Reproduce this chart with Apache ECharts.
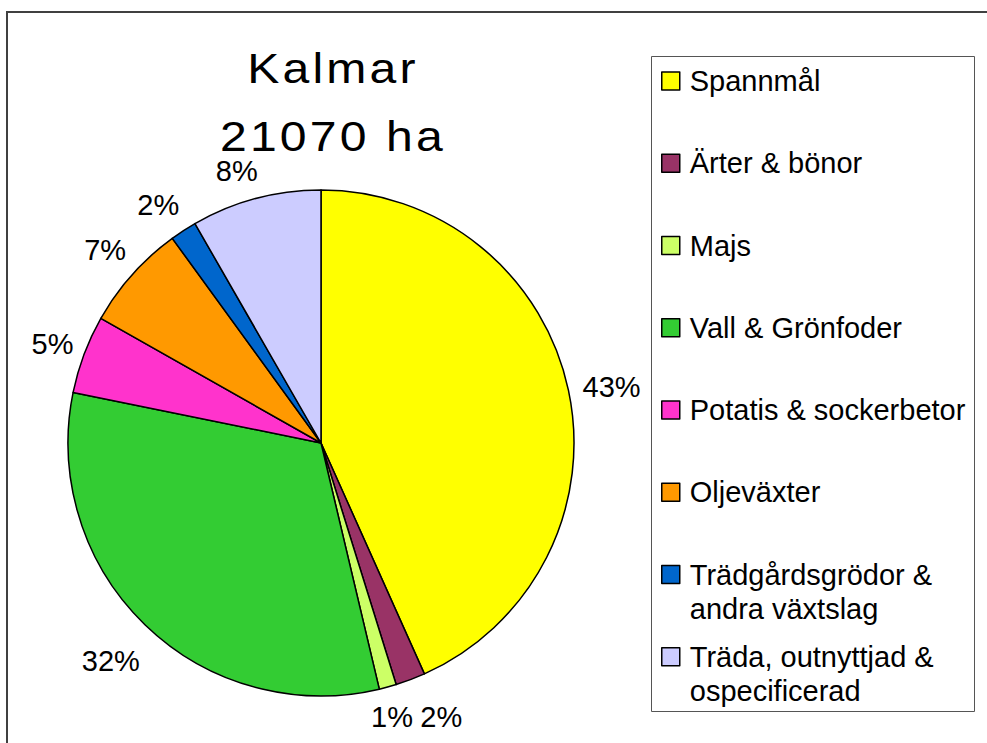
<!DOCTYPE html>
<html>
<head>
<meta charset="utf-8">
<script src="https://cdn.jsdelivr.net/npm/echarts@6/dist/echarts.min.js"></script>
<style>
  html, body { margin: 0; padding: 0; background: #ffffff; }
  #chart { width: 987px; height: 743px; }
</style>
</head>
<body>
<div id="chart"></div>
<script>
// ---- Data ----
var titleLines = ['Kalmar', '21070 ha'];
var categories = ['Spannmål', 'Ärter & bönor', 'Majs', 'Vall & Grönfoder', 'Potatis & sockerbetor', 'Oljeväxter', 'Trädgårdsgrödor & andra växtslag', 'Träda, outnyttjad & ospecificerad'];
var legendLabels = ['Spannmål', 'Ärter & bönor', 'Majs', 'Vall & Grönfoder', 'Potatis & sockerbetor', 'Oljeväxter', 'Trädgårdsgrödor &\nandra växtslag', 'Träda, outnyttjad &\nospecificerad'];
var sharePercent = [43.3, 1.9, 1.1, 31.9, 5.0, 6.8, 1.7, 8.3];
var colors = ['#FFFF00', '#993366', '#CCFF66', '#33CC33', '#FF33CC', '#FF9900', '#0066CC', '#CCCCFF'];

// ---- Layout / style ----
var FONT = '"Liberation Sans", Arial, sans-serif';
var CX = 321, CY = 443, R = 253;
var LEG_LH = 34, LEG_ICON = 18;
var legendFirstCenter = 81, legendStep = 82.25;
// small label nudges (px) to mimic the original best-fit label placement
var labelNudge = [[5, 5], [17, 1], [-6, -8], [-7, 8], [5, 3], [2, 1], [-4, 7], [-9, 10]];
var TITLE_SPACING = '2.8px';

var chart = echarts.init(document.getElementById('chart'), null, { renderer: 'svg' });

var pieData = categories.map(function (n, i) {
  return { name: n, value: sharePercent[i], itemStyle: { color: colors[i] } };
});
var labelData = categories.map(function (n, i) {
  return { name: n, value: sharePercent[i], label: { offset: labelNudge[i] } };
});

var legends = categories.map(function (n, i) {
  var twoLines = legendLabels[i].indexOf('\n') >= 0;
  var center = legendFirstCenter + legendStep * i;
  var top = twoLines ? center - (LEG_LH * 3) / 2 : center - LEG_LH / 2;
  return {
    data: [n],
    orient: 'vertical',
    left: 661,
    top: top,
    padding: 0,
    icon: 'rect',
    itemWidth: LEG_ICON,
    itemHeight: LEG_ICON,
    selectedMode: false,
    itemStyle: { borderColor: '#000', borderWidth: 1.5 },
    formatter: function (name) {
      var t = legendLabels[categories.indexOf(name)];
      // leading empty line keeps the marker level with the first text line
      return t.indexOf('\n') >= 0 ? '\n' + t : t;
    },
    textStyle: {
      fontFamily: FONT, fontSize: 29, color: '#000', lineHeight: LEG_LH,
      padding: [0, 0, 0, 5]
    }
  };
});

function titleText(txt, y) {
  return {
    type: 'text', x: 333, y: y, scaleX: 1.12, scaleY: 1, silent: true, z: 10,
    style: {
      text: txt, fontFamily: FONT, fontSize: 43, fill: '#000',
      align: 'center', verticalAlign: 'middle'
    }
  };
}

var option = {
  backgroundColor: '#ffffff',
  animation: false,
  legend: legends,
  graphic: [
    { type: 'rect', z: 0, shape: { x: 7, y: 12, width: 1100, height: 1000 },
      style: { fill: 'none', stroke: '#404040', lineWidth: 2 }, silent: true },
    { type: 'rect', z: 0, shape: { x: 651.5, y: 56.5, width: 323, height: 655 },
      style: { fill: '#ffffff', stroke: '#555555', lineWidth: 1 }, silent: true },
    titleText(titleLines[0], 68),
    titleText(titleLines[1], 136)
  ],
  series: [
    {
      type: 'pie',
      name: 'Areal',
      center: [CX, CY],
      radius: R,
      startAngle: 90,
      clockwise: true,
      silent: true,
      label: { show: false },
      labelLine: { show: false },
      itemStyle: { borderColor: '#000', borderWidth: 1.5 },
      emphasis: { disabled: true },
      data: pieData
    },
    {
      type: 'pie',
      name: 'Etiketter',
      center: [CX, CY],
      radius: [270, 308],
      startAngle: 90,
      clockwise: true,
      silent: true,
      z: 3,
      itemStyle: { color: 'rgba(0,0,0,0)', borderWidth: 0 },
      emphasis: { disabled: true },
      label: {
        show: true,
        position: 'inside',
        fontFamily: FONT,
        fontSize: 29,
        color: '#000',
        formatter: function (p) { return Math.round(p.percent) + '%'; }
      },
      labelLine: { show: false },
      data: labelData
    }
  ]
};
chart.setOption(option);

// Letter-spaced heading like the original
var svgTexts = document.querySelectorAll('#chart svg text');
for (var k = 0; k < svgTexts.length; k++) {
  if (titleLines.indexOf(svgTexts[k].textContent) >= 0) {
    svgTexts[k].style.letterSpacing = TITLE_SPACING;
  }
}
</script>
</body>
</html>
